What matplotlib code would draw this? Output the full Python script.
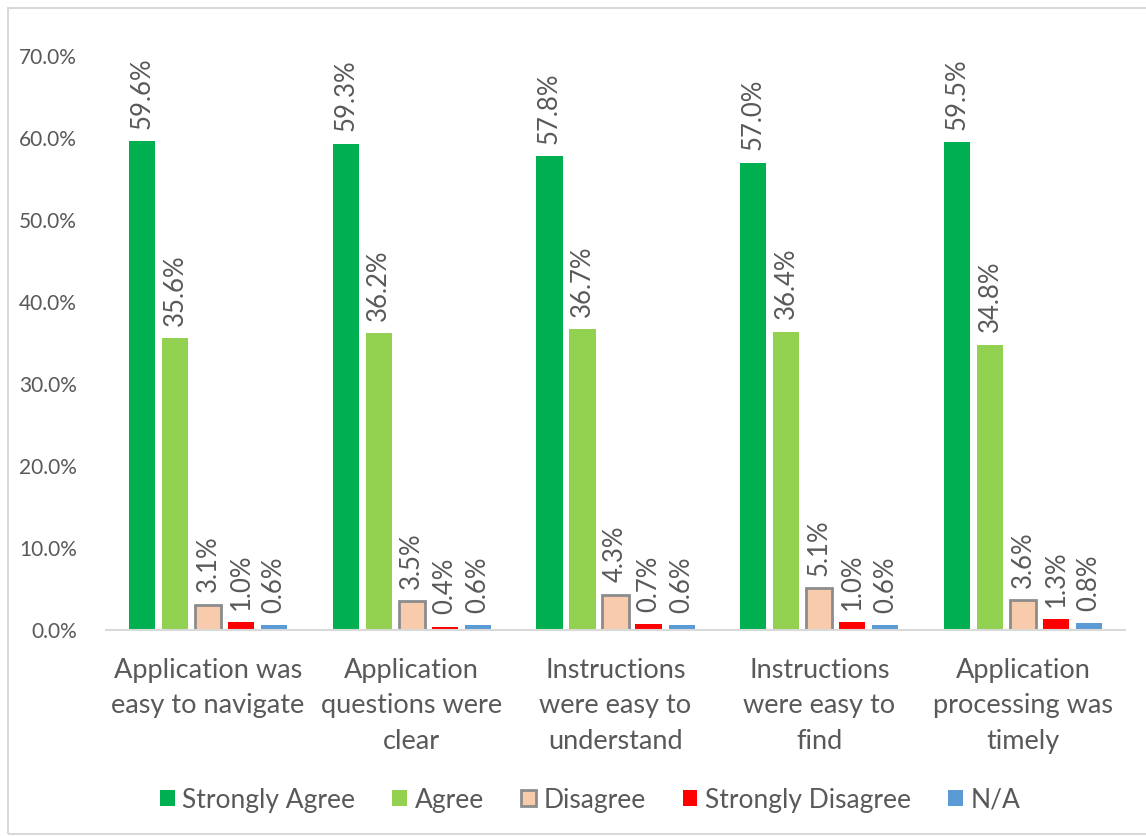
import numpy as np
import matplotlib.pyplot as plt
from matplotlib.patches import Rectangle

plt.rcParams['font.family'] = ['Lato', 'DejaVu Sans']

categories = ['Application was\neasy to navigate', 'Application\nquestions were\nclear',
              'Instructions\nwere easy to\nunderstand', 'Instructions\nwere easy to\nfind',
              'Application\nprocessing was\ntimely']
series = ['Strongly Agree', 'Agree', 'Disagree', 'Strongly Disagree', 'N/A']
strongly_agree = [59.6, 59.3, 57.8, 57.0, 59.5]
agree = [35.6, 36.2, 36.7, 36.4, 34.8]
disagree = [3.1, 3.5, 4.3, 5.1, 3.6]
strongly_disagree = [1.0, 0.4, 0.7, 1.0, 1.3]
na = [0.6, 0.6, 0.6, 0.6, 0.8]
values = [strongly_agree, agree, disagree, strongly_disagree, na]

colors = ['#00B050', '#92D050', '#F8CBAD', '#FF0000', '#5B9BD5']
edges = ['none', 'none', '#8C8C8C', 'none', 'none']
text_color = '#595959'

fig = plt.figure(figsize=(11.46, 8.36), dpi=100)
fig.patches.append(Rectangle((8 / 1146, 0.002), 1.2, 0.99 - 0.002, transform=fig.transFigure,
                             fill=False, edgecolor='#D9D9D9', linewidth=1.5))
ax = fig.add_axes([0.0925, 0.2464, 0.8892, 0.6866])

x = np.arange(len(categories))
step = 0.162
width = 0.128
for i, (name, vals) in enumerate(zip(series, values)):
    pos = x + (i - 2) * step
    lw = 2 if edges[i] != 'none' else 0
    bars = ax.bar(pos, vals, width, color=colors[i], edgecolor=edges[i], linewidth=lw, label=name)
    for b, v in zip(bars, vals):
        ax.text(b.get_x() + b.get_width() / 2, v + 1.5, f'{v:.1f}%', rotation=90,
                ha='center', va='bottom', fontsize=18.5, color=text_color)

ax.set_xlim(-0.5, len(categories) - 0.5)
ax.set_ylim(0, 70)
ax.set_yticks(np.arange(0, 71, 10))
ax.set_yticklabels([f'{t:.1f}%' for t in np.arange(0, 71, 10)], fontsize=15, color=text_color)
ax.set_xticks(x)
ax.set_xticklabels(categories, fontsize=19.5, color=text_color, linespacing=1.52)
ax.tick_params(axis='both', length=0)
ax.tick_params(axis='y', pad=21)
ax.tick_params(axis='x', pad=20)
for s in ['top', 'right', 'left']:
    ax.spines[s].set_visible(False)
ax.spines['bottom'].set_color('#D9D9D9')
ax.spines['bottom'].set_linewidth(1.5)

leg = fig.legend(loc='center', bbox_to_anchor=(0.515, 0.043), ncol=5, frameon=False,
                 fontsize=19, handlelength=0.55, handleheight=0.55, handletextpad=0.3,
                 columnspacing=1.4)
for t in leg.get_texts():
    t.set_color(text_color)

fig.savefig('out.png', dpi=100)
